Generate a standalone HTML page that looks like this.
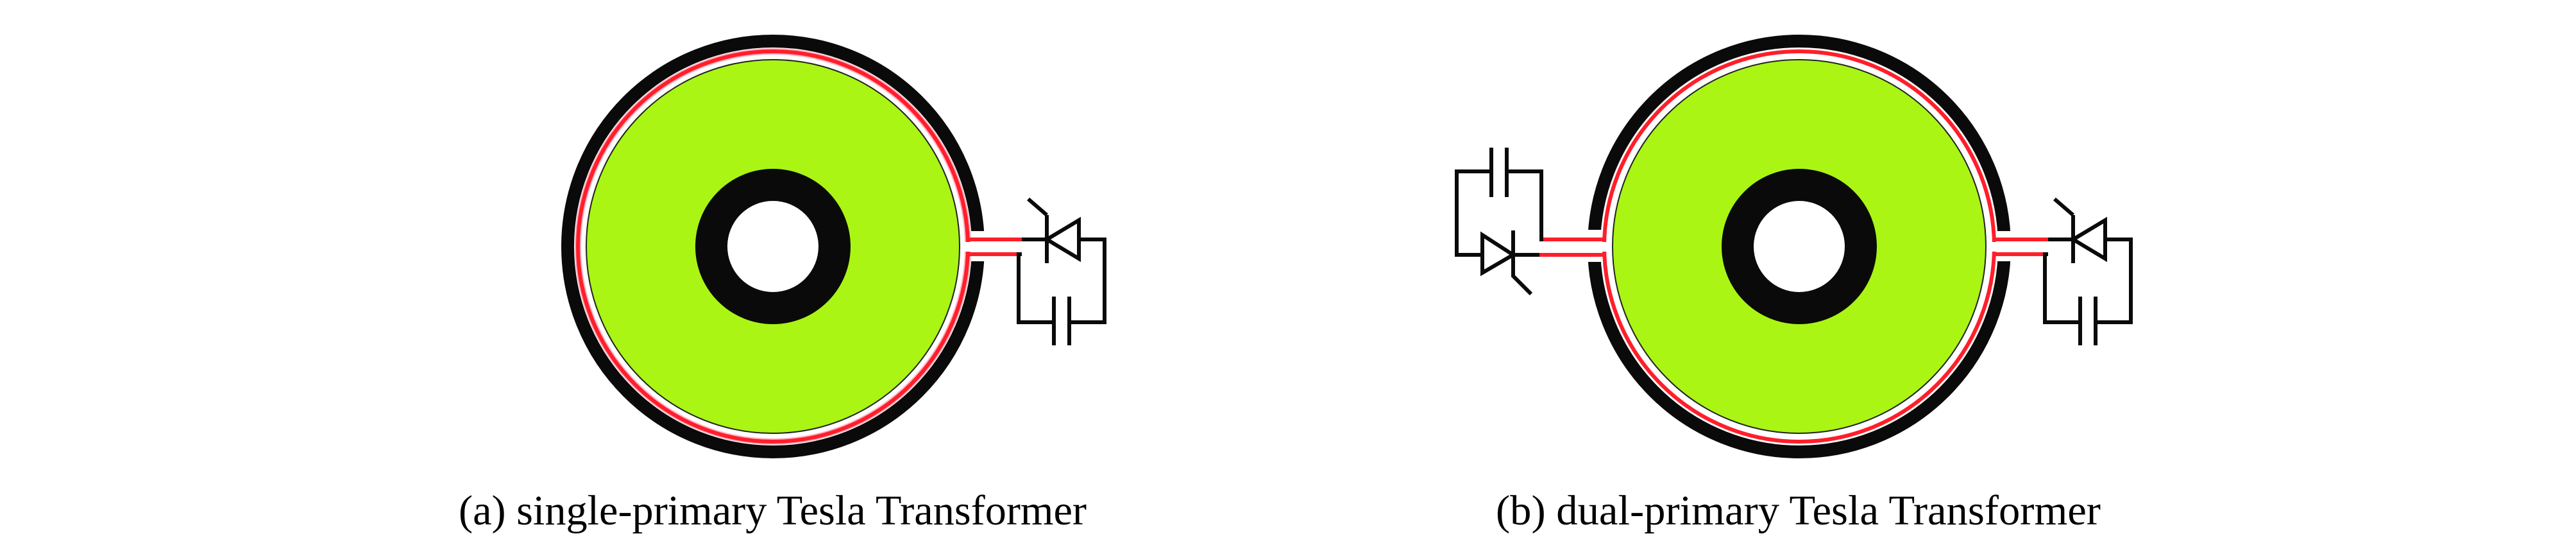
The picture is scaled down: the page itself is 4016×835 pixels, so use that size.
<!DOCTYPE html>
<html><head><meta charset="utf-8"><style>
html,body{margin:0;padding:0;background:#fff;}
svg{display:block;}
</style></head><body>
<svg width="4016" height="835" viewBox="0 0 4016 835" xmlns="http://www.w3.org/2000/svg">
<rect width="4016" height="835" fill="#fff"/>
<!-- Transformer A -->
<g>
<circle cx="1205" cy="384" r="320" fill="none" stroke="#0a0a0a" stroke-width="20"/>
<rect x="1500" y="360" width="50" height="47" fill="#fff"/>
<circle cx="1205" cy="384" r="304" fill="none" stroke="#ffb0c0" stroke-width="10"/>
<circle cx="1205" cy="384" r="304" fill="none" stroke="#ff1e2a" stroke-width="6"/>
<rect x="1495" y="377" width="25" height="15" fill="#fff"/>
<circle cx="1205" cy="384" r="291" fill="#aaf514" stroke="#222" stroke-width="2"/>
<circle cx="1205" cy="384" r="96" fill="#fff" stroke="#0a0a0a" stroke-width="50"/>
<path d="M1506,373 H1593 M1506,396 H1593" stroke="#ff1e2a" stroke-width="6" fill="none"/>
<g stroke="#0a0a0a" stroke-width="6" fill="none">
<path d="M1593,373 H1632"/>
<path d="M1632,335 V410"/>
<path d="M1603,310 L1632,335"/>
<path d="M1632,373 L1682,343 V403 Z"/>
<path d="M1682,373 H1722 V502 H1667"/>
<path d="M1667,462 V538 M1643,462 V538"/>
<path d="M1643,502 H1588 V396 H1593"/>
</g>
</g>
<!-- Transformer B -->
<g>
<circle cx="2805" cy="384" r="320" fill="none" stroke="#0a0a0a" stroke-width="20"/>
<rect x="3100" y="360" width="50" height="47" fill="#fff"/>
<rect x="2460" y="358" width="50" height="50" fill="#fff"/>
<circle cx="2805" cy="384" r="304" fill="none" stroke="#ff1e2a" stroke-width="6"/>
<rect x="3095" y="377" width="25" height="15" fill="#fff"/>
<rect x="2490" y="377" width="25" height="15" fill="#fff"/>
<circle cx="2805" cy="384" r="291" fill="#aaf514" stroke="#222" stroke-width="2"/>
<circle cx="2805" cy="384" r="96" fill="#fff" stroke="#0a0a0a" stroke-width="50"/>
<path d="M3106,373 H3193 M3106,396 H3193" stroke="#ff1e2a" stroke-width="6" fill="none"/>
<path d="M2504,373 H2400 M2504,397 H2400" stroke="#ff1e2a" stroke-width="6" fill="none"/>
<g stroke="#0a0a0a" stroke-width="6" fill="none">
<path d="M3193,373 H3232"/>
<path d="M3232,335 V410"/>
<path d="M3203,310 L3232,335"/>
<path d="M3232,373 L3282,343 V403 Z"/>
<path d="M3282,373 H3322 V502 H3267"/>
<path d="M3267,462 V538 M3243,462 V538"/>
<path d="M3243,502 H3188 V396 H3193"/>
<!-- left circuit -->
<path d="M2403,376 V267 H2349"/>
<path d="M2349,230 V307 M2325,230 V307"/>
<path d="M2325,267 H2271 V397 H2311"/>
<path d="M2311,366 V425 L2359,397 Z"/>
<path d="M2359,359 V430 L2387,458"/>
<path d="M2359,397 H2400"/>
</g>
</g>
<text x="715" y="817" font-family="Liberation Serif, serif" font-size="66" textLength="979" lengthAdjust="spacingAndGlyphs" fill="#000">(a) single-primary Tesla Transformer</text>
<text x="2332" y="817" font-family="Liberation Serif, serif" font-size="66" textLength="943" lengthAdjust="spacingAndGlyphs" fill="#000">(b) dual-primary Tesla Transformer</text>
</svg>
</body></html>
